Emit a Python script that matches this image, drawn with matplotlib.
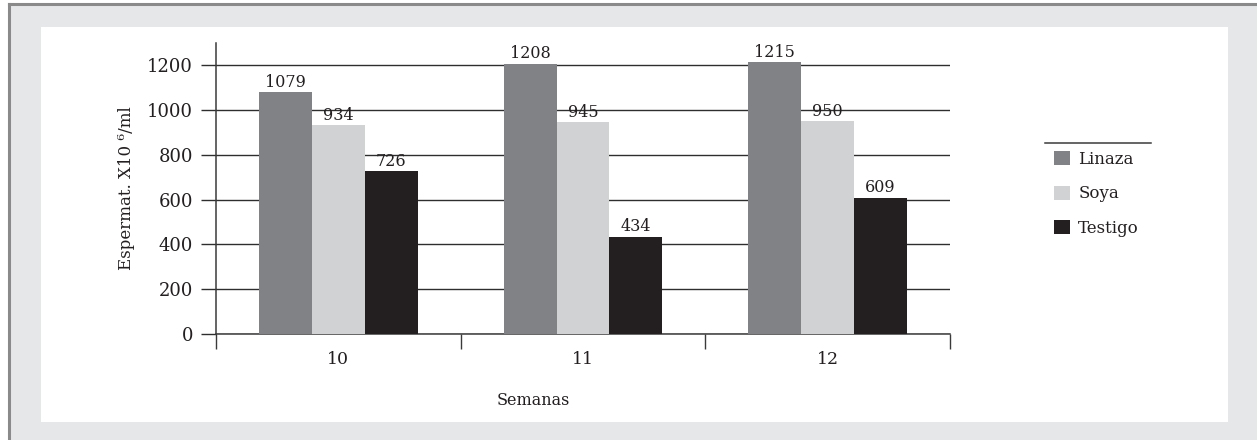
import numpy as np
import matplotlib.pyplot as plt
from matplotlib.patches import Rectangle
from matplotlib.lines import Line2D

plt.rcParams['font.family'] = ['DejaVu Serif']

semanas = ['10', '11', '12']
series = ['Linaza', 'Soya', 'Testigo']
linaza = [1079, 1208, 1215]
soya = [934, 945, 950]
testigo = [726, 434, 609]
colores = ['#818285', '#d1d2d4', '#231f20']

W, H = 1257, 440
fig = plt.figure(figsize=(W / 100, H / 100), dpi=100)
fig.patch.set_facecolor('white')

# background, grey border on top/left, white panel
fig.patches.append(Rectangle((8 / W, 0), 1, (H - 3) / H, transform=fig.transFigure,
                             facecolor='#e6e7e8', edgecolor='none', zorder=-3))
fig.add_artist(Line2D([9 / W, 1], [(H - 4) / H] * 2, color='#8a8a8a', lw=2.2))
fig.add_artist(Line2D([9 / W] * 2, [0, (H - 4) / H], color='#8a8a8a', lw=2.2))
fig.patches.append(Rectangle((41 / W, (H - 422) / H), (1228 - 41) / W, (422 - 27) / H,
                             transform=fig.transFigure, facecolor='white',
                             edgecolor='none', zorder=-2))

ax = fig.add_axes([216 / W, (H - 334) / H, (950 - 216) / W, (334 - 43) / H])
ax.set_facecolor('none')

x = np.arange(len(semanas)) + 0.5
w = 53 / 245
for i, (vals, name) in enumerate(zip([linaza, soya, testigo], series)):
    bars = ax.bar(x + (i - 1) * w, vals, w, color=colores[i], label=name, zorder=3)
    ax.bar_label(bars, padding=1, fontsize=11.5, color='#231f20')

ax.set_xlim(0, 3)
ax.set_ylim(0, 1300)
ax.set_yticks(range(0, 1201, 200))
ax.yaxis.grid(True, color='#2e2e2e', lw=1.0, zorder=0)
ax.set_xticks([0, 1, 2, 3])
ax.set_xticklabels([])
ax.set_xticks(x, minor=True)
ax.set_xticklabels(semanas, minor=True, fontsize=12.5)
ax.tick_params(axis='x', which='major', direction='out', length=11, width=1, color='#3a3a3a')
ax.tick_params(axis='x', which='minor', length=0, pad=12, labelcolor='#231f20')
ax.tick_params(axis='y', direction='out', length=10.5, width=1.0, color='#2e2e2e',
               labelsize=13, pad=6, labelcolor='#231f20')
for s in ['top', 'right']:
    ax.spines[s].set_visible(False)
ax.spines['left'].set_color('#3a3a3a')
ax.spines['bottom'].set_color('#3a3a3a')
ax.spines['left'].set_linewidth(1.1)
ax.spines['bottom'].set_linewidth(1.1)

ax.set_ylabel('Espermat. X10 \u2076/ml', fontsize=12, color='#231f20', labelpad=9)
fig.text(533 / W, (H - 400) / H, 'Semanas', fontsize=11.5, color='#231f20',
         ha='center', va='center')

leg = fig.legend(loc='upper left', bbox_to_anchor=(1054 / W, (H - 151) / H),
                 frameon=False, fontsize=12, handlelength=0.95, handleheight=0.95,
                 handletextpad=0.5, labelspacing=1.05, borderpad=0, borderaxespad=0)
for t in leg.get_texts():
    t.set_color('#231f20')
fig.add_artist(Line2D([1045 / W, 1151 / W], [(H - 143) / H] * 2, color='#3a3a3a', lw=1.1))

fig.savefig('out.png', dpi=100)
